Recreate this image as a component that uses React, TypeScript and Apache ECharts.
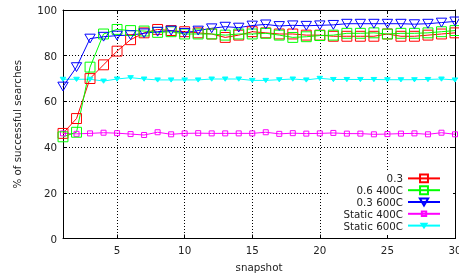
import React, { useEffect, useRef } from "react";
import * as echarts from "echarts";

const snapshots = [1, 2, 3, 4, 5, 6, 7, 8, 9, 10, 11, 12, 13, 14, 15, 16, 17, 18, 19, 20, 21, 22, 23, 24, 25, 26, 27, 28, 29, 30];
const seriesNames = ["0.3", "0.6 400C", "0.3 600C", "Static 400C", "Static 600C"];
const s03 = [46, 52.5, 70, 76, 82, 87, 90, 91.5, 91, 90.5, 90, 89.5, 88, 89, 90.5, 90, 89.5, 89.5, 89, 89, 88.5, 88.5, 88.5, 88.5, 89.5, 88.5, 88.5, 89, 89.5, 90];
const s06_400 = [44.5, 46.5, 75, 89.5, 91.5, 91, 90.8, 90.2, 90.5, 89.5, 89.5, 89.5, 89, 89.5, 89.5, 89.8, 89, 88, 88.3, 88.8, 89, 89.8, 89.8, 90, 89.5, 89.8, 89.8, 90, 90.5, 91];
const s03_600 = [66.5, 75, 87.5, 88.3, 88.8, 89, 89.8, 90.5, 91, 90, 91, 92, 92.7, 92.3, 93.2, 93.7, 93, 93.3, 93.1, 93.3, 93.5, 94, 94, 94, 94, 94, 93.8, 94, 94.5, 95];
const static400 = [46, 45.8, 46, 46.3, 46.1, 45.7, 45.3, 46.5, 45.6, 46, 46.1, 46, 46, 46, 46, 46.5, 45.8, 46.1, 45.9, 46, 46.2, 45.9, 45.9, 45.6, 45.7, 45.9, 46, 45.6, 46.3, 45.6];
const static600 = [69.7, 69.7, 69.7, 68.9, 69.8, 70.4, 69.8, 69.4, 69.4, 69.4, 69.4, 69.8, 69.8, 69.8, 69.2, 69.2, 69.5, 69.8, 69.4, 70.1, 69.6, 69.6, 69.6, 69.6, 69.5, 69.5, 69.5, 69.6, 69.8, 69.4];
const xTicks = [5, 10, 15, 20, 25, 30];

const FONT = "DejaVu Sans";
const TXT = "#222";
const FS = 10.3;

// symbols padded inside a 10x10 box so legend and plot sizes stay proportional
const SMALL_SQUARE = "path://M0,0M10,10M2.5,2.5L7.5,2.5L7.5,7.5L2.5,7.5Z";
const SMALL_TRI_DOWN = "path://M0,0M10,10M2.2,3L7.8,3L5,7.2Z";
const BIG_SQUARE = "path://M0,0M10,10M0.5,0.5L9.5,0.5L9.5,9.5L0.5,9.5Z";
const BIG_TRI_DOWN = "path://M0,0M10,10M0.3,1L9.7,1L5,9Z";

export default function App() {
  const ref = useRef<HTMLDivElement>(null);
  useEffect(() => {
    const chart = echarts.init(ref.current!, undefined, { renderer: "svg" });
    const pair = (vals: number[]) => snapshots.map((x, i) => [x, vals[i]]);
    const mk = (name: string, vals: number[], color: string, symbol: string, size: number, filled: boolean) => ({
      name,
      type: "line",
      data: pair(vals),
      symbol,
      symbolSize: size,
      symbolKeepAspect: true,
      lineStyle: { color, width: 1 },
      itemStyle: { color: filled ? color : "rgba(0,0,0,0)", borderColor: color, borderWidth: 1 },
      emphasis: { disabled: true },
    });
    const tickCommon = { inside: true, length: 4, lineStyle: { color: "#000", width: 1 }, customValues: xTicks };
    chart.setOption({
      animation: false,
      textStyle: { fontFamily: FONT },
      grid: { left: 63, right: 4, top: 10, bottom: 41.5, show: false, containLabel: false, outerBoundsMode: "none" },
      legend: {
        orient: "vertical",
        align: "right",
        right: 6,
        top: 172,
        padding: [1, 12, 4, 14],
        itemWidth: 32,
        itemHeight: 11,
        itemGap: 1,
        backgroundColor: "#fff",
        textStyle: { fontFamily: FONT, fontSize: FS, color: TXT },
        data: seriesNames,
      },
      xAxis: [
        {
          type: "value",
          min: 1,
          max: 30,
          name: "snapshot",
          nameLocation: "middle",
          nameGap: 23,
          nameTextStyle: { fontFamily: FONT, fontSize: FS, color: TXT },
          axisLine: { show: true, lineStyle: { color: "#000", width: 1 } },
          axisTick: tickCommon,
          axisLabel: { customValues: xTicks, margin: 6, fontFamily: FONT, fontSize: FS, color: TXT },
          splitLine: { show: true, lineStyle: { color: "#000", width: 1, type: [1, 2] } },
        },
        {
          type: "value",
          min: 1,
          max: 30,
          position: "top",
          axisLine: { show: true, onZero: false, lineStyle: { color: "#000", width: 1 } },
          axisTick: tickCommon,
          axisLabel: { show: false, customValues: xTicks },
          splitLine: { show: false },
        },
      ],
      yAxis: [
        {
          type: "value",
          min: 0,
          max: 100,
          interval: 20,
          name: "% of successful searches",
          nameLocation: "middle",
          nameGap: 41,
          nameTextStyle: { fontFamily: FONT, fontSize: FS, color: TXT },
          axisLine: { show: true, lineStyle: { color: "#000", width: 1 } },
          axisTick: { show: true, inside: true, length: 4, lineStyle: { color: "#000", width: 1 } },
          axisLabel: { margin: 6, fontFamily: FONT, fontSize: FS, color: TXT },
          splitLine: { show: true, lineStyle: { color: "#000", width: 1, type: [1, 2] } },
        },
        {
          type: "value",
          min: 0,
          max: 100,
          interval: 20,
          position: "right",
          axisLine: { show: true, onZero: false, lineStyle: { color: "#000", width: 1 } },
          axisTick: { show: true, inside: true, length: 4, lineStyle: { color: "#000", width: 1 } },
          axisLabel: { show: false },
          splitLine: { show: false },
        },
      ],
      series: [
        mk(seriesNames[3], static400, "#ff00ff", SMALL_SQUARE, 10, false),
        mk(seriesNames[4], static600, "#00ffff", SMALL_TRI_DOWN, 10, true),
        mk(seriesNames[0], s03, "#ff0000", BIG_SQUARE, 11, false),
        mk(seriesNames[1], s06_400, "#00ff00", BIG_SQUARE, 11, false),
        mk(seriesNames[2], s03_600, "#0000ff", BIG_TRI_DOWN, 11, false),
      ],
    });
    return () => chart.dispose();
  }, []);
  return <div ref={ref} style={{ position: "fixed", left: 0, top: 0, width: 459, height: 280 }} />;
}
